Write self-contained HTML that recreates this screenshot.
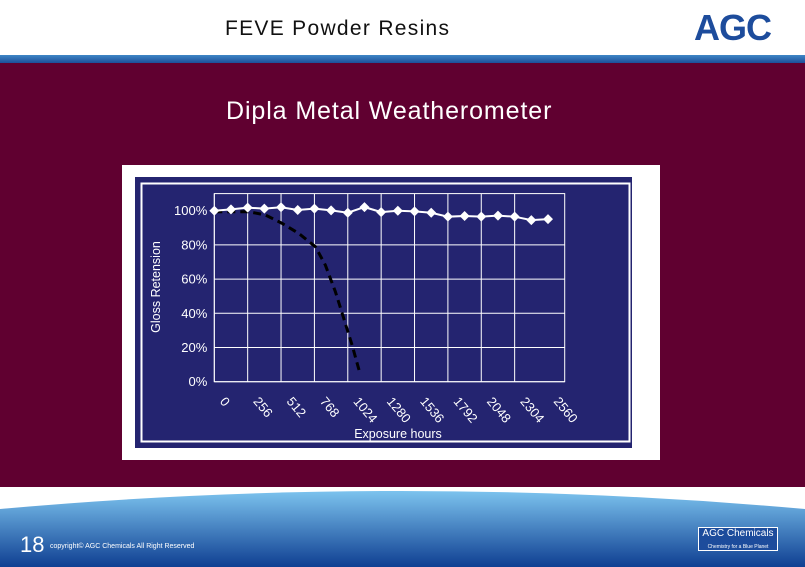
<!DOCTYPE html>
<html><head><meta charset="utf-8"><style>
body{margin:0;width:805px;height:567px;overflow:hidden;background:#fff;font-family:"Liberation Sans",sans-serif;position:relative}
div{position:absolute}
</style></head><body>
<div style="left:225px;top:17px;font-size:21px;color:#111;letter-spacing:1.3px">FEVE Powder Resins</div>
<div style="left:694px;top:7px;font-size:36px;font-weight:bold;color:#1d4c9c;letter-spacing:-1px">AGC</div>
<div style="left:0;top:55px;width:805px;height:8px;background:linear-gradient(#3f86c6,#1c4f9a)"></div>
<div style="left:0;top:63px;width:805px;height:424px;background:#600030"></div>
<div style="left:226px;top:97px;font-size:25px;color:#fff;letter-spacing:0.9px">Dipla Metal Weatherometer</div>
<svg style="position:absolute;left:0;top:487px" width="805" height="80">
<defs><linearGradient id="fg" x1="0" y1="0" x2="0" y2="1"><stop offset="0" stop-color="#7cc3ee"/><stop offset="1" stop-color="#0f3f92"/></linearGradient></defs>
<path d="M0,22 Q400,-14 805,22 L805,80 L0,80 Z" fill="url(#fg)"/>
</svg>
<div style="left:20px;top:532px;font-size:22px;color:#fff">18</div>
<div style="left:50px;top:543px;font-size:7px;color:#fff">copyright© AGC Chemicals All Right Reserved</div>
<div style="left:698px;top:527px;width:78px;height:22px;border:1px solid #fff;background:#1d4c9c;color:#fff;font-size:10px;text-align:center;line-height:12px">AGC Chemicals<br><span style="font-size:5px">Chemistry for a Blue Planet</span></div>
<svg id="chart" style="position:absolute;left:0;top:0" width="805" height="567"></svg>
<script>
const hours=[0,128,256,384,512,640,768,896,1024,1152,1280,1408,1536,1664,1792,1920,2048,2176,2304,2432,2560];
const feveValues=[100,100.8,101.8,101.2,102,100.4,101.2,100.2,98.8,102.1,99.2,100,99.6,98.8,96.5,96.9,96.5,97.1,96.5,94.5,95.1];
const polyHours=[0,264,392,520,648,776,852,929,993,1057,1114];
const polyValues=[99.4,99.4,97.5,92.6,86.7,78.9,68.2,52.6,37,21.4,5.8];
const yTicks=[0,20,40,60,80,100];
const xTickLabels=["0","256","512","768","1024","1280","1536","1792","2048","2304","2560"];
const NS="http://www.w3.org/2000/svg";
const svg=document.getElementById('chart');
const X0=214.3,X1=564.7,XMAX=2688,Y0=381.7,Y100=210.7;
const xs=h=>X0+h/XMAX*(X1-X0);
const ys=v=>Y0-v/100*(Y0-Y100);
function mk(t,a){const e=document.createElementNS(NS,t);for(const k in a)e.setAttribute(k,a[k]);svg.appendChild(e);return e;}
let e;
e=mk('rect',{x:122,y:165,width:538,height:295,fill:'#fff'});


e=mk('rect',{x:135,y:177,width:497,height:271,fill:'#242470'});


e=mk('rect',{x:141.5,y:183.5,width:488,height:258,fill:'none',stroke:'#fff','stroke-width':2});


e=mk('rect',{x:X0,y:ys(110),width:X1-X0,height:Y0-ys(110),fill:'none',stroke:'#fff','stroke-width':1});


yTicks.forEach(v=>{
 if(v<100){
 e=mk('line',{x1:X0,x2:X1,y1:ys(v),y2:ys(v),stroke:'#fff','stroke-width':1});
 
 
 }
 e=mk('text',{x:X0-7,y:ys(v)+4.5,'text-anchor':'end',fill:'#fff','font-size':13,'font-family':'Liberation Sans'});
 e.textContent=v+'%';
 
 
});
xTickLabels.forEach((l,i)=>{
 const h=i*256;
 if(i<xTickLabels.length-1){
 e=mk('line',{x1:xs(h),x2:xs(h),y1:ys(110),y2:Y0,stroke:'#fff','stroke-width':1});
 
 
 }
 const tx=xs(h)+5,ty=Y0+20;
 e=mk('text',{x:tx,y:ty,fill:'#fff','font-size':13,'font-family':'Liberation Sans',transform:`rotate(50 ${tx} ${ty})`});
 e.textContent=l;
 
 
});
e=mk('text',{x:398,y:438,'text-anchor':'middle',fill:'#fff','font-size':12.5,'font-family':'Liberation Sans'});
e.textContent='Exposure hours';


e=mk('text',{x:160,y:287,'text-anchor':'middle',fill:'#fff','font-size':12.5,'font-family':'Liberation Sans',transform:'rotate(-90 160 287)'});
e.textContent='Gloss Retension';


e=mk('polyline',{points:polyHours.map((h,i)=>xs(h)+','+ys(polyValues[i])).join(' '),fill:'none',stroke:'#000','stroke-width':3,'stroke-dasharray':'8,5'});


e=mk('polyline',{points:hours.map((h,i)=>xs(h)+','+ys(feveValues[i])).join(' '),fill:'none',stroke:'#fff','stroke-width':2});


hours.forEach((h,i)=>{
 const cx=xs(h),cy=ys(feveValues[i]);
 e=mk('path',{d:`M${cx},${cy-5}L${cx+5},${cy}L${cx},${cy+5}L${cx-5},${cy}Z`,fill:'#fff'});
 
 
});
</script>
</body></html>
